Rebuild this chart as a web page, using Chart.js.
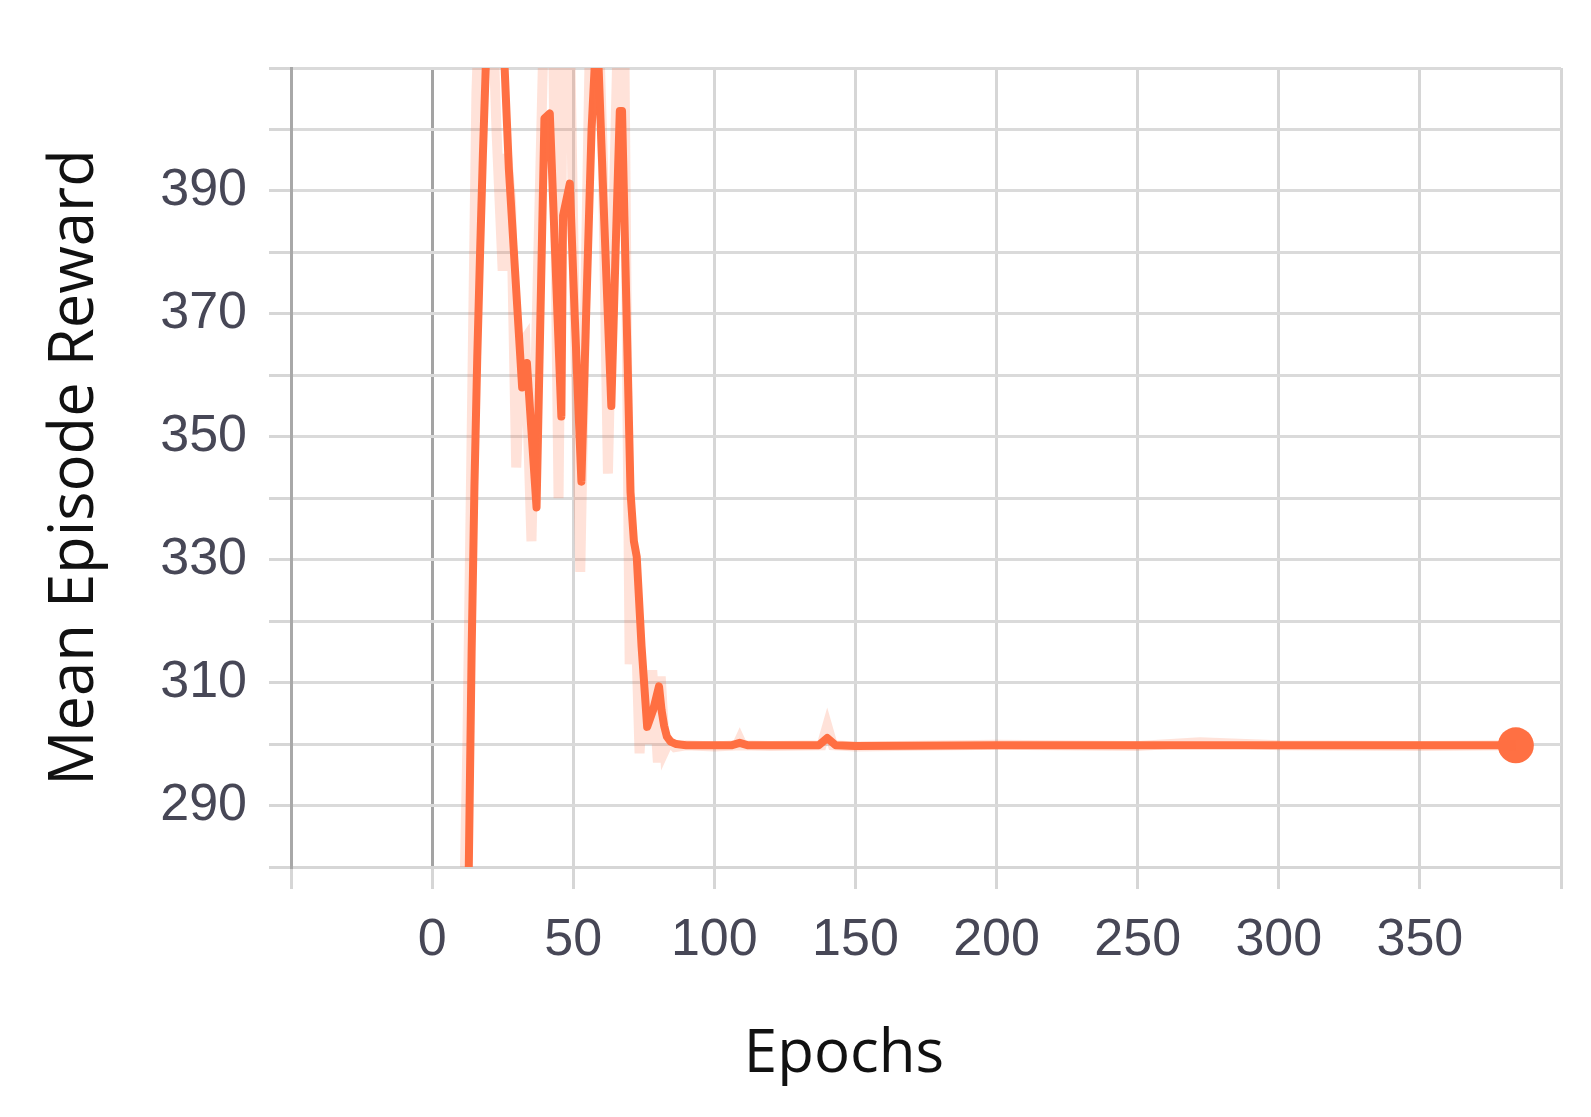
<!DOCTYPE html>
<html>
<head>
<meta charset="utf-8">
<title>Mean Episode Reward</title>
<script src="https://cdn.jsdelivr.net/npm/chart.js@4.4.1/dist/chart.umd.min.js"></script>
<style>
  html, body { margin: 0; padding: 0; background: #fff; }
  canvas { display: block; }
</style>
</head>
<body>
<canvas id="rewardChart" width="1591" height="1117"></canvas>
<script>
// smoothed curve (epoch, reward)
const smoothEpochs = [0, 12, 13, 14, 15, 16, 17, 18, 19, 20.5, 22.5, 24.5, 25.7, 27.2, 31.9, 33.6, 37, 39.8, 41.7, 45.8, 46.4, 48.8, 50.5, 52.9, 54.7, 56.5, 57.8, 59, 61, 63.5, 65, 66.5, 67.3, 68.8, 70.3, 71.5, 72.5, 74.2, 76.2, 78.3, 80.4, 81.3, 82.2, 83.2, 84.5, 86.5, 90, 100, 106, 109, 112, 120, 130, 137, 140, 143, 150, 200, 250, 300, 350, 384];
const smoothReward = [150, 245, 280, 315, 342, 363, 380, 396, 410, 420, 425, 419, 410, 393.5, 358, 362, 338.5, 401.8, 402.6, 353.3, 386, 391.2, 370, 342.7, 372, 400, 412, 410, 385, 355, 380, 403, 403, 372, 341, 333, 330.5, 316, 302.8, 305.5, 309.4, 305.5, 303, 301.2, 300.4, 300, 299.8, 299.8, 299.8, 300.2, 299.8, 299.8, 299.8, 299.8, 301, 299.8, 299.7, 299.8, 299.8, 299.8, 299.8, 299.8];

// raw values shown faintly behind
const rawEpochs = [0, 11, 12.5, 14, 15.7, 17.5, 20, 22.8, 25, 26.5, 28, 29.8, 31.5, 33, 35.2, 40, 42.5, 44.8, 46.5, 48.5, 50.5, 52.5, 54.5, 56.5, 58.5, 60.5, 62.3, 64.5, 66.5, 68, 70, 71.5, 73.5, 75, 76.5, 78, 80, 81, 82.5, 84, 86, 90, 100, 108, 109, 110, 120, 138, 140, 142, 150, 200, 250, 272, 300, 350, 384];
const rawReward = [150, 265, 300, 350, 406, 430, 440, 400, 377, 396, 388, 345, 365, 366, 333, 425, 430, 340, 420, 425, 370, 328, 378, 430, 425, 395, 344, 390, 430, 420, 313, 330, 298.5, 310, 300, 312, 297, 311, 299, 300.5, 299.5, 299.8, 299.6, 299.8, 300.8, 299.8, 299.7, 299.8, 303, 299.8, 299.6, 299.9, 299.7, 300.3, 299.8, 299.7, 299.8];

const xLabels = [0, 50, 100, 150, 200, 250, 300, 350];
const yLabels = [290, 310, 330, 350, 370, 390];

const orange = '#ff7043';
const toPoints = (xs, ys) => xs.map((x, i) => ({ x, y: ys[i] }));

// x axis title sits left of centre in the original
const xTitle = {
  id: 'xTitle',
  afterDraw(chart) {
    const { ctx } = chart;
    ctx.save();
    ctx.font = '60px "Open Sans"';
    ctx.fillStyle = '#111';
    ctx.textAlign = 'center';
    ctx.textBaseline = 'middle';
    ctx.fillText('Epochs', 844, 1055);
    ctx.restore();
  }
};

const lastIdx = smoothEpochs.length - 1;
const tickFont = { family: '"Liberation Sans", Arial, sans-serif', size: 52 };

new Chart(document.getElementById('rewardChart'), {
  type: 'line',
  data: {
    datasets: [
      {
        label: 'raw',
        data: toPoints(rawEpochs, rawReward),
        borderColor: 'rgba(255,112,67,0.2)',
        borderWidth: 10,
        pointRadius: 0,
        tension: 0
      },
      {
        label: 'smoothed',
        data: toPoints(smoothEpochs, smoothReward),
        borderColor: orange,
        backgroundColor: orange,
        borderWidth: 8,
        borderJoinStyle: 'round',
        pointRadius: (c) => c.dataIndex === lastIdx ? 18 : 0,
        pointBorderWidth: 0,
        pointHoverRadius: 0,
        tension: 0
      }
    ]
  },
  options: {
    responsive: false,
    animation: false,
    devicePixelRatio: 1,
    layout: { padding: { top: 68, right: 30, left: 0, bottom: 0 } },
    plugins: {
      legend: { display: false },
      tooltip: { enabled: false }
    },
    scales: {
      x: {
        type: 'linear',
        min: -50,
        max: 400,
        afterFit: (s) => { s.height = 250; },
        ticks: {
          stepSize: 50,
          padding: 20,
          autoSkip: false,
          color: '#474756',
          font: tickFont,
          maxRotation: 0,
          callback: (v) => xLabels.includes(v) ? String(v) : ''
        },
        grid: {
          lineWidth: 3,
          color: (c) => (c.tick && (c.tick.value === 0 || c.tick.value === -50)) ? '#a3a3a3' : '#d6d6d6',
          tickColor: '#d6d6d6',
          tickLength: 22,
          tickWidth: 3
        },
        border: { display: true, color: '#d6d6d6', width: 3 }
      },
      y: {
        type: 'linear',
        min: 280,
        max: 410,
        afterFit: (s) => { s.width = 291; },
        ticks: {
          stepSize: 10,
          padding: 22,
          autoSkip: false,
          color: '#474756',
          font: tickFont,
          callback: (v) => yLabels.includes(v) ? String(v) : ''
        },
        grid: {
          lineWidth: 3,
          color: '#dadada',
          tickColor: '#d6d6d6',
          tickLength: 22,
          tickWidth: 3
        },
        border: { display: true, color: '#a8a8a8', width: 3 },
        title: {
          display: true,
          text: 'Mean Episode Reward',
          color: '#111',
          font: { family: '"Open Sans", sans-serif', size: 61.5 },
          padding: { top: 39, bottom: 0 }
        }
      }
    }
  },
  plugins: [xTitle]
});
</script>
</body>
</html>
